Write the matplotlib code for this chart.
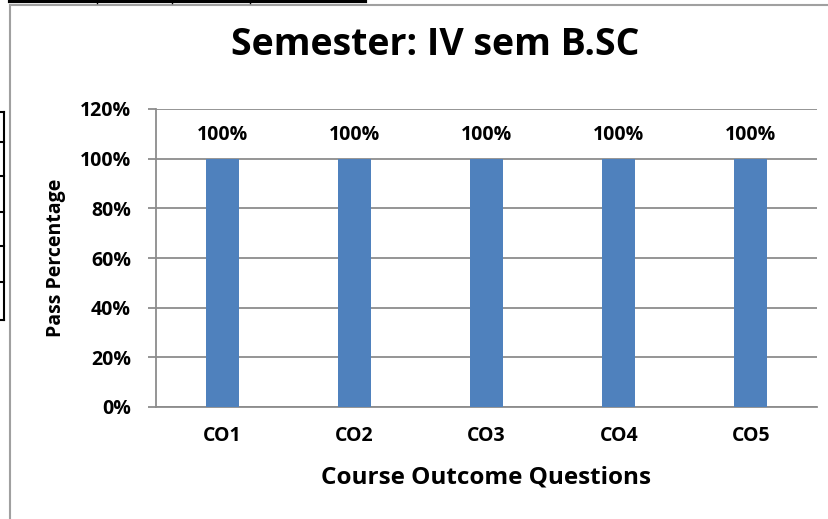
import matplotlib.pyplot as plt
from matplotlib.lines import Line2D

categories = ["CO1", "CO2", "CO3", "CO4", "CO5"]
pass_pct = [100, 100, 100, 100, 100]
yticks = [0, 20, 40, 60, 80, 100, 120]

plt.rcParams['font.family'] = ['Open Sans', 'DejaVu Sans']
plt.rcParams['font.weight'] = 'bold'

W, H = 829, 519
fig = plt.figure(figsize=(W / 100, H / 100), dpi=100)

# chart frame (screenshot edge)
fig.add_artist(Line2D([10 / W, 10 / W], [0, 1 - 5 / H], color='#a0a0a0', lw=1.5))
fig.add_artist(Line2D([10 / W, 1], [1 - 5 / H, 1 - 5 / H], color='#a0a0a0', lw=1.5))
# bits of the table around the chart
fig.add_artist(Line2D([10 / W, 365 / W], [1 - 1 / H, 1 - 1 / H], color='black', lw=3))
for x in [97, 172, 250]:
    fig.add_artist(Line2D([x / W, x / W], [1 - 3 / H, 1], color='black', lw=1))
for y in [112, 142, 176, 212, 246, 282, 320]:
    fig.add_artist(Line2D([0, 4 / W], [1 - y / H, 1 - y / H], color='black', lw=1.5))
fig.add_artist(Line2D([4 / W, 4 / W], [1 - 320 / H, 1 - 112 / H], color='black', lw=1.5))

ax = fig.add_axes([156 / W, 1 - 407 / H, 661 / W, 298 / H])
x = range(len(categories))
bars = ax.bar(x, pass_pct, width=0.25, color='#4f81bd', zorder=3)
for b, v in zip(bars, pass_pct):
    ax.text(b.get_x() + b.get_width() / 2, v + 5.5, f"{v}%", ha='center', va='bottom',
            fontsize=14, fontweight='bold')

ax.set_xlim(-0.5, len(categories) - 0.5)
ax.set_ylim(0, 120)
ax.set_yticks(yticks)
ax.set_yticklabels([f"{t}%" for t in yticks], fontsize=14, fontweight='bold')
ax.set_xticks(list(x))
ax.set_xticklabels(categories, fontsize=14, fontweight='bold')
ax.tick_params(axis='x', length=0, pad=14)
ax.tick_params(axis='y', length=6, width=1.3, color='#8c8c8c', pad=12)
ax.yaxis.grid(True, color='#8c8c8c', lw=1.3, zorder=0)
for s in ['top', 'right']:
    ax.spines[s].set_visible(False)
for s in ['left', 'bottom']:
    ax.spines[s].set_color('#8c8c8c')
    ax.spines[s].set_linewidth(1.3)

ax.set_xlabel("Course Outcome Questions", fontsize=17.5, fontweight='bold', labelpad=14)
ax.set_ylabel("Pass Percentage", fontsize=14, fontweight='bold', labelpad=10)
fig.text(435 / W, 1 - 45 / H, "Semester: IV sem B.SC", ha='center', va='center',
         fontsize=27, fontweight='bold')

fig.savefig("out.png", dpi=100)
